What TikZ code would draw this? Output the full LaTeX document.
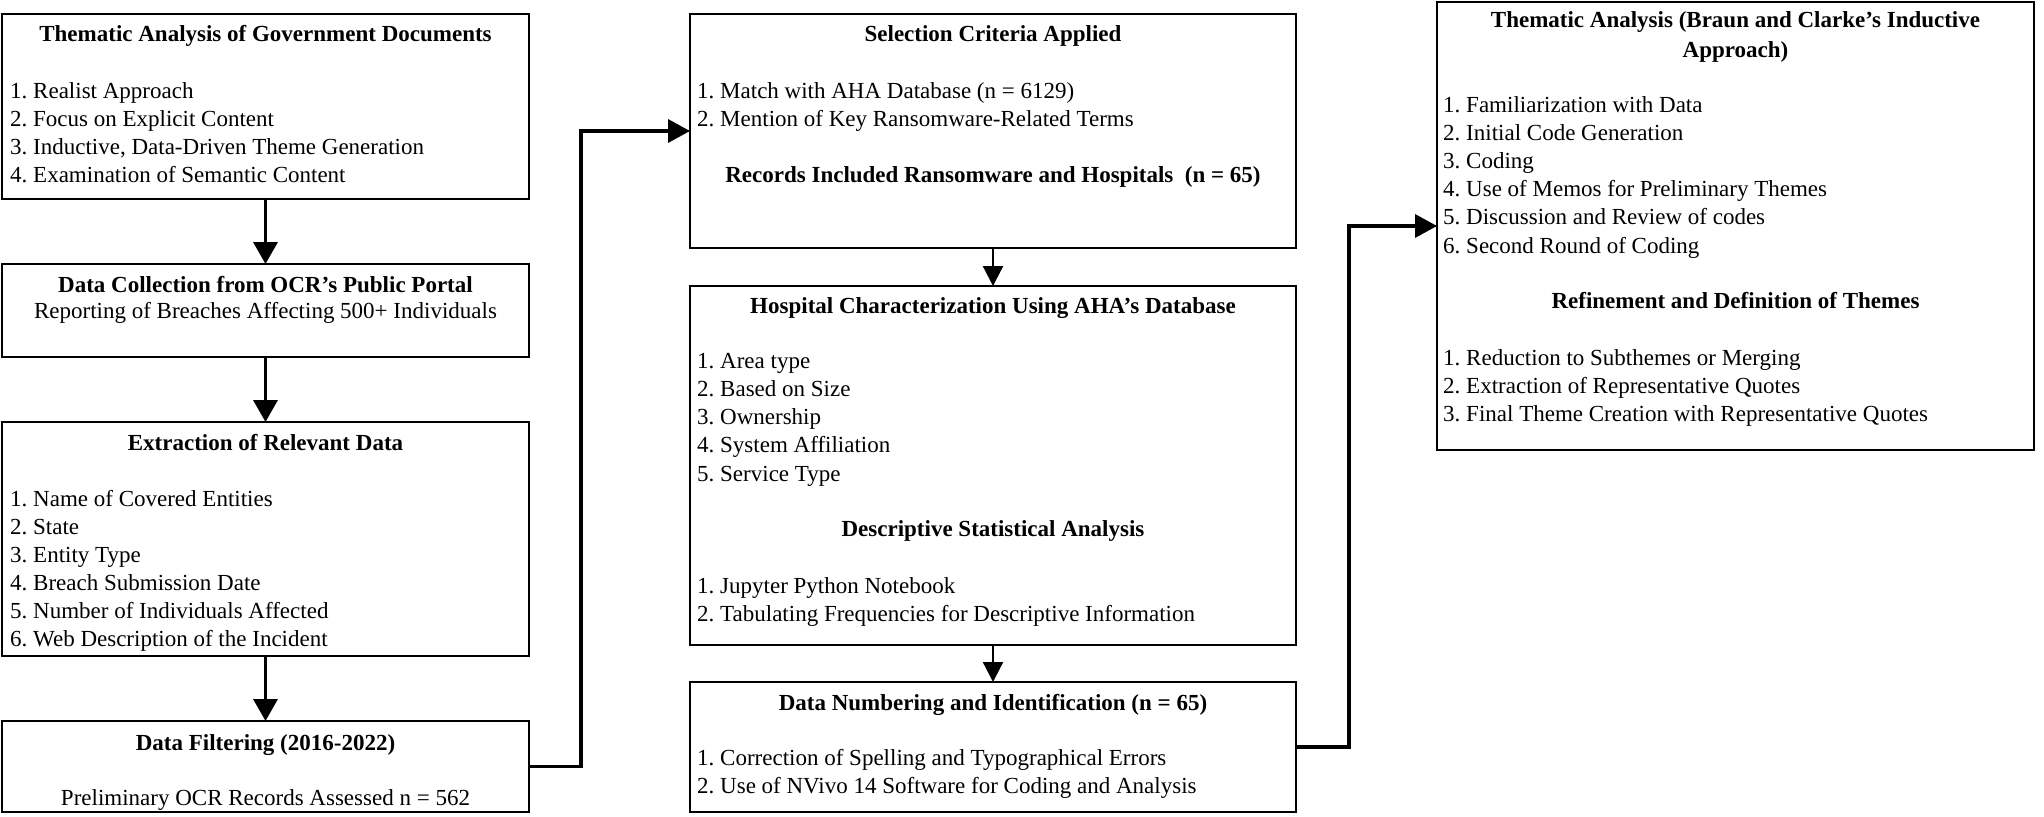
\documentclass[tikz,border=0pt]{standalone}
\usepackage{fontspec}
\setmainfont{Liberation Serif}
\usetikzlibrary{arrows.meta}
\frenchspacing
\begin{document}
\begin{tikzpicture}[x=1pt,y=1pt,
  box/.style={draw, line width=2.2pt, inner sep=0pt, outer sep=0pt, anchor=north west},
  ttl/.style={font=\fontsize{23}{28}\selectfont\bfseries, anchor=base, inner sep=0pt},
  txt/.style={font=\fontsize{23}{28}\selectfont, anchor=base west, inner sep=0pt},
  ctr/.style={font=\fontsize{23}{28}\selectfont, anchor=base, inner sep=0pt},
  arrA/.style={line width=3.5pt, -{Triangle[length=22pt,width=24pt]}},
  arrB/.style={line width=2.3pt, -{Triangle[length=20pt,width=20pt]}},
  conn/.style={line width=3.5pt, line join=miter, -{Triangle[length=22pt,width=23pt]}}]
\useasboundingbox (0,0) rectangle (2044,-816);

% ---------- column A ----------
\node[box, minimum width=527, minimum height=185] (a1) at (2,-14) {};
\node[box, minimum width=527, minimum height=93]  (a2) at (2,-264) {};
\node[box, minimum width=527, minimum height=234] (a3) at (2,-422) {};
\node[box, minimum width=527, minimum height=91]  (a4) at (2,-721) {};

\node[ttl] (a1t) at (265.5,-42) {Thematic Analysis of Government Documents};
\foreach \t [count=\i] in {{1. Realist Approach},{2. Focus on Explicit Content},{3. Inductive, Data-Driven Theme Generation},{4. Examination of Semantic Content}}
  \node[txt] (a1i\i) at (10,{-98-28*(\i-1)}) {\t};

\node[ttl] (a2t) at (265.5,-292) {Data Collection from OCR's Public Portal};
\node[ctr] (a2s) at (265.5,-318) {Reporting of Breaches Affecting 500+ Individuals};

\node[ttl] (a3t) at (265.5,-450) {Extraction of Relevant Data};
\foreach \t [count=\i] in {{1. Name of Covered Entities},{2. State},{3. Entity Type},{4. Breach Submission Date},{5. Number of Individuals Affected},{6. Web Description of the Incident}}
  \node[txt] (a3i\i) at (10,{-506-28*(\i-1)}) {\t};

\node[ttl] (a4t) at (265.5,-750) {Data Filtering (2016-2022)};
\node[ctr] (a4s) at (265.5,-805) {Preliminary OCR Records Assessed n = 562};

% ---------- column B ----------
\node[box, minimum width=606, minimum height=234] (b1) at (690,-14) {};
\node[box, minimum width=606, minimum height=359] (b2) at (690,-286) {};
\node[box, minimum width=606, minimum height=130] (b3) at (690,-682) {};

\node[ttl] (b1t) at (993,-42) {Selection Criteria Applied};
\foreach \t [count=\i] in {{1. Match with AHA Database (n = 6129)},{2. Mention of Key Ransomware-Related Terms}}
  \node[txt] (b1i\i) at (697,{-98-28*(\i-1)}) {\t};
\node[ttl] (b1r) at (993,-182) {Records Included Ransomware and Hospitals\ \ (n = 65)};

\node[ttl] (b2t) at (993,-313) {Hospital Characterization Using AHA's Database};
\foreach \t [count=\i] in {{1. Area type},{2. Based on Size},{3. Ownership},{4. System Affiliation},{5. Service Type}}
  \node[txt] (b2i\i) at (697,{-368-28.25*(\i-1)}) {\t};
\node[ttl] (b2d) at (993,-536) {Descriptive Statistical Analysis};
\foreach \t [count=\i] in {{1. Jupyter Python Notebook},{2. Tabulating Frequencies for Descriptive Information}}
  \node[txt] (b2j\i) at (697,{-593-28*(\i-1)}) {\t};

\node[ttl] (b3t) at (993,-710) {Data Numbering and Identification (n = 65)};
\foreach \t [count=\i] in {{1. Correction of Spelling and Typographical Errors},{2. Use of NVivo 14 Software for Coding and Analysis}}
  \node[txt] (b3i\i) at (697,{-765-28*(\i-1)}) {\t};

% ---------- column C ----------
\node[box, minimum width=597, minimum height=448] (c) at (1437,-2) {};
\node[ttl] (ct1) at (1735.5,-28) {Thematic Analysis (Braun and Clarke's Inductive};
\node[ttl] (ct2) at (1735.5,-57) {Approach)};
\foreach \t [count=\i] in {{1. Familiarization with Data},{2. Initial Code Generation},{3. Coding},{4. Use of Memos for Preliminary Themes},{5. Discussion and Review of codes},{6. Second Round of Coding}}
  \node[txt] (ci\i) at (1443,{-112-28.2*(\i-1)}) {\t};
\node[ttl] (cr) at (1735.5,-308) {Refinement and Definition of Themes};
\foreach \t [count=\i] in {{1. Reduction to Subthemes or Merging},{2. Extraction of Representative Quotes},{3. Final Theme Creation with Representative Quotes}}
  \node[txt] (cj\i) at (1443,{-365-28*(\i-1)}) {\t};

% ---------- connectors ----------
\draw[arrA] (a1.south) -- (a2.north);
\draw[arrA] (a2.south) -- (a3.north);
\draw[arrA] (a3.south) -- (a4.north);
\draw[arrB] (b1.south) -- (b2.north);
\draw[arrB] (b2.south) -- (b3.north);
\draw[conn] (a4.east) -- ++(52,0) |- (b1.west);
\draw[conn] (b3.east) -- ++(53,0) |- (c.west);
\end{tikzpicture}
\end{document}
